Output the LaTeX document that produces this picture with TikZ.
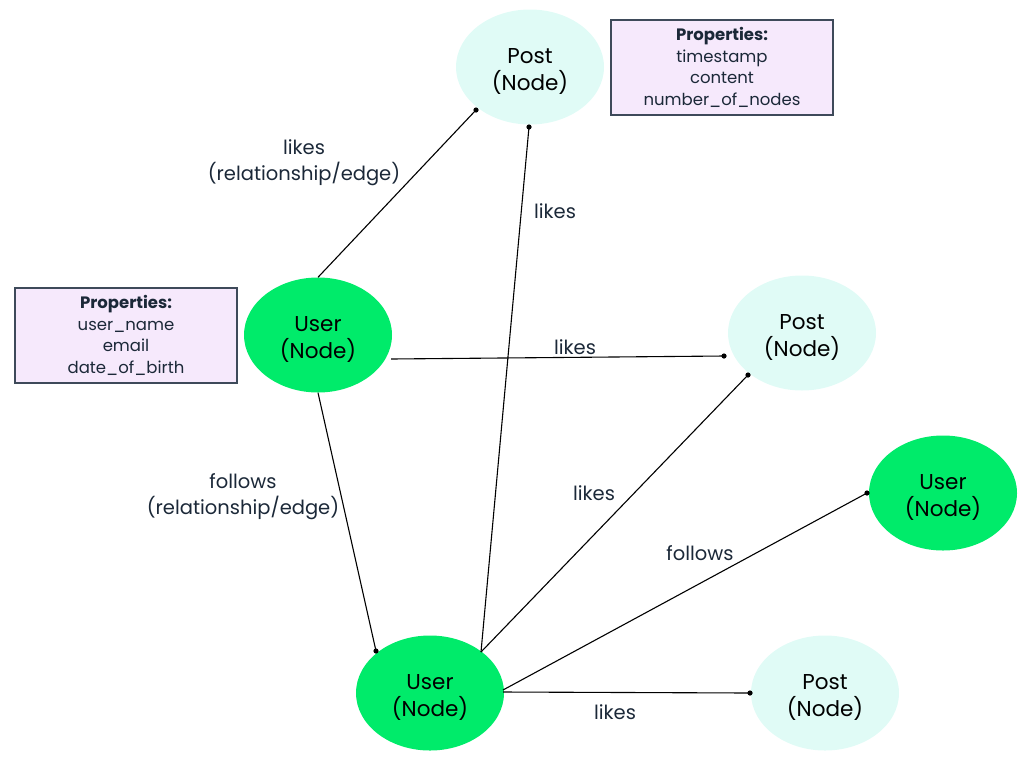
\documentclass[tikz,border=0pt]{standalone}
\usepackage{fontspec}
\setmainfont{Poppins}
\usetikzlibrary{shapes.geometric,calc}
\definecolor{usergreen}{HTML}{00EB6A}
\definecolor{postcyan}{HTML}{E0FBF6}
\definecolor{propfill}{HTML}{F6E9FC}
\definecolor{propline}{HTML}{3E4A5A}
\definecolor{txt}{HTML}{1B2838}
\newcommand{\nodetxt}[1]{\rule{0pt}{24pt}#1\\(Node)}
\tikzset{
  usernode/.style={ellipse, fill=usergreen, minimum width=148pt, minimum height=115pt, inner sep=0pt, align=center, font=\fontsize{21.5}{27}\selectfont, text=black},
  postnode/.style={ellipse, fill=postcyan, minimum width=148pt, minimum height=115pt, inner sep=0pt, align=center, font=\fontsize{21.5}{27}\selectfont, text=black},
  propbox/.style={draw=propline, line width=1.2pt, fill=propfill, minimum width=222pt, minimum height=95pt, inner sep=0pt, align=center, text=txt, font=\fontsize{16.5}{21.5}\selectfont},
  edgelbl/.style={align=center, text=txt, font=\fontsize{19.5}{26}\selectfont, inner sep=0pt},
  conn/.style={line width=1.1pt, draw=black},
  enddot/.style={fill=black, radius=2.6pt}
}
\begin{document}
\begin{tikzpicture}[x=1pt,y=-1pt]
\useasboundingbox (0,0) rectangle (1035,769);
% nodes
\node[postnode] (postT) at (530,67) {\nodetxt{Post}};
\node[usernode] (userL) at (318,335) {\nodetxt{User}};
\node[postnode] (postM) at (802,333) {\nodetxt{Post}};
\node[usernode] (userR) at (943,493) {\nodetxt{User}};
\node[usernode] (userB) at (430,693) {\nodetxt{User}};
\node[postnode] (postB) at (825,693) {\nodetxt{Post}};
\node[propbox] (propT) at (722,67.5) {\textbf{Properties:}\\timestamp\\content\\number\_of\_nodes};
\node[propbox] (propL) at (126,335.5) {\textbf{Properties:}\\user\_name\\email\\date\_of\_birth};
% connector end points
\coordinate (e1) at ($(postT.center)+(-54,43)$);
\coordinate (e2) at ($(postT.center)+(-1,60)$);
\coordinate (e3) at ($(postM.center)+(-78,23)$);
\coordinate (e4) at ($(postM.center)+(-54,42)$);
\coordinate (e5) at ($(userR.center)+(-76,0)$);
\coordinate (e6) at ($(postB.center)+(-75,0)$);
\coordinate (e7) at ($(userB.center)+(-54,-42)$);
% connectors
\draw[conn] (userL.north) -- (e1);
\draw[conn] ($(userB.center)+(51,-41)$) -- (e2);
\draw[conn] ($(userL.center)+(73,24)$) -- (e3);
\draw[conn] ($(userB.center)+(51,-41)$) -- (e4);
\draw[conn] ($(userB.center)+(73,-3)$) -- (e5);
\draw[conn] ($(userB.center)+(73,-1)$) -- (e6);
\draw[conn] (userL.south) -- (e7);
\foreach \p in {e1,e2,e3,e4,e5,e6,e7} \fill[enddot] (\p) circle;
% labels
\node[edgelbl] (l1) at (304,163) {likes\\(relationship/edge)};
\node[edgelbl] (l2) at (555,211) {likes};
\node[edgelbl] (l3) at (575,347) {likes};
\node[edgelbl] (l4) at (594,493) {likes};
\node[edgelbl] (l5) at (700,553) {follows};
\node[edgelbl] (l6) at (615,712) {likes};
\node[edgelbl] (l7) at (243,497) {follows\\(relationship/edge)};
\end{tikzpicture}
\end{document}
